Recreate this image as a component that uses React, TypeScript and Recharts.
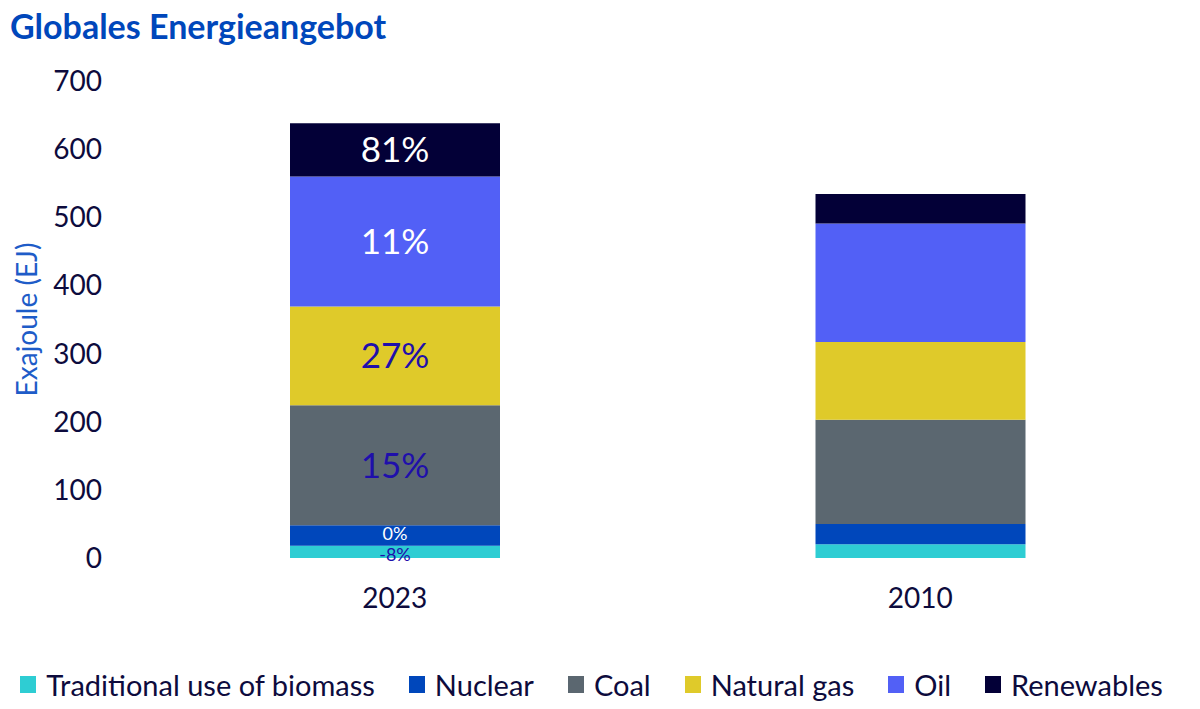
import React from 'react'
import { BarChart, Bar, XAxis, YAxis, Legend, LabelList } from 'recharts'

const years = ['2023', '2010']
const biomass = [18, 20]
const nuclear = [30, 30]
const coal = [176, 153]
const gas = [145, 114]
const oil = [191, 174]
const renewables = [78, 43]

// labels only shown on the 2023 bar
const biomassLabels = ['-8%', '']
const nuclearLabels = ['0%', '']
const coalLabels = ['15%', '']
const gasLabels = ['27%', '']
const oilLabels = ['11%', '']
const renewablesLabels = ['81%', '']

const yTicks = [0, 100, 200, 300, 400, 500, 600, 700]

const FONT = 'Lato, "Open Sans", sans-serif'
const NAVY = '#0d0b3d'
const LABEL_BLUE = '#1f0fab'

const series = [
  { key: 'biomass', name: 'Traditional use of biomass', color: '#2ecdd3', values: biomass, labels: biomassLabels, labelColor: LABEL_BLUE, labelSize: 18, dy: 3 },
  { key: 'nuclear', name: 'Nuclear', color: '#0047bb', values: nuclear, labels: nuclearLabels, labelColor: '#ffffff', labelSize: 18, dy: -2 },
  { key: 'coal', name: 'Coal', color: '#5b6770', values: coal, labels: coalLabels, labelColor: LABEL_BLUE, labelSize: 35, dy: 0 },
  { key: 'gas', name: 'Natural gas', color: '#dfca2a', values: gas, labels: gasLabels, labelColor: LABEL_BLUE, labelSize: 35, dy: 0 },
  { key: 'oil', name: 'Oil', color: '#5260f6', values: oil, labels: oilLabels, labelColor: '#ffffff', labelSize: 35, dy: 0 },
  { key: 'renewables', name: 'Renewables', color: '#030037', values: renewables, labels: renewablesLabels, labelColor: '#ffffff', labelSize: 35, dy: 0 },
]

const data = years.map((year, i) => {
  const row: any = { year }
  series.forEach(s => {
    row[s.key] = s.values[i]
    row[s.key + 'Label'] = s.labels[i]
  })
  return row
})

function SegmentLabel({ x, y, width, height, value, fill, size, shift }: any) {
  if (!value) return null
  return (
    <text
      x={x + width / 2}
      y={y + height / 2 + shift}
      dy="0.35em"
      textAnchor="middle"
      fill={fill}
      fontSize={size}
      fontFamily={FONT}
    >
      {value}
    </text>
  )
}

function LegendContent() {
  return (
    <div style={{ height: 50, display: 'flex', justifyContent: 'center', alignItems: 'center', gap: 34, fontFamily: FONT }}>
      {series.map(s => (
        <div key={s.key} style={{ display: 'flex', alignItems: 'center' }}>
          <span style={{ width: 16, height: 17, background: s.color, marginRight: 10, display: 'inline-block' }} />
          <span style={{ fontSize: 29, color: NAVY }}>{s.name}</span>
        </div>
      ))}
    </div>
  )
}

export default function App() {
  return (
    <div style={{ position: 'absolute', left: 0, top: 0, width: 1200, height: 709, background: '#fff' }}>
      <div style={{ position: 'absolute', left: 10, top: 5, fontFamily: FONT, fontWeight: 700, fontSize: 34, color: '#0047bb' }}>
        Globales Energieangebot
      </div>
      <BarChart width={1200} height={709} data={data} margin={{ top: 81, right: 17, left: 0, bottom: 0 }}>
        <XAxis
          dataKey="year"
          axisLine={false}
          tickLine={false}
          tickSize={0}
          tickMargin={30}
          height={101}
          tick={{ fontSize: 28, fill: NAVY, fontFamily: FONT }}
        />
        <YAxis
          domain={[0, 700]}
          ticks={yTicks}
          axisLine={false}
          tickLine={false}
          tickSize={0}
          tickMargin={30}
          width={132}
          tick={{ fontSize: 28, fill: NAVY, fontFamily: FONT }}
          label={{ value: 'Exajoule (EJ)', angle: -90, position: 'insideLeft', offset: 27, style: { textAnchor: 'middle', fontSize: 28, fill: '#1e5cc8', fontFamily: FONT } }}
        />
        <Legend verticalAlign="bottom" content={<LegendContent />} />
        {series.map(s => (
          <Bar key={s.key} dataKey={s.key} name={s.name} stackId="a" fill={s.color} barSize={210} isAnimationActive={false}>
            <LabelList dataKey={s.key + 'Label'} content={(props: any) => <SegmentLabel {...props} fill={s.labelColor} size={s.labelSize} shift={s.dy} />} />
          </Bar>
        ))}
      </BarChart>
    </div>
  )
}
